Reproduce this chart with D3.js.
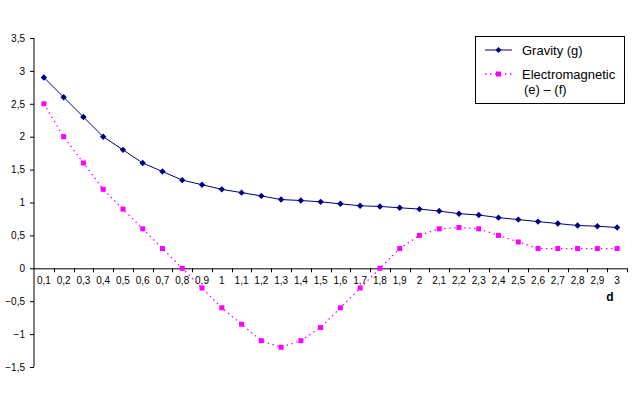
<!DOCTYPE html>
<html>
<head>
<meta charset="utf-8">
<script src="https://cdn.jsdelivr.net/npm/d3@7"></script>
<style>
    body { margin: 0; background: #fff; }
    text { font-family: "Liberation Sans", Arial, sans-serif; }
</style>
</head>
<body>
<div id="chart"></div>
<script>
'use strict';

// category labels (distance d)
const categories = ["0.1", "0.2", "0.3", "0.4", "0.5", "0.6", "0.7", "0.8", "0.9", "1",
    "1.1", "1.2", "1.3", "1.4", "1.5", "1.6", "1.7", "1.8", "1.9", "2",
    "2.1", "2.2", "2.3", "2.4", "2.5", "2.6", "2.7", "2.8", "2.9", "3"];

const gravity = [2.9, 2.6, 2.3, 2.0, 1.8, 1.6, 1.47, 1.34, 1.27, 1.2,
    1.15, 1.1, 1.045, 1.03, 1.01, 0.98, 0.95, 0.94, 0.92, 0.9,
    0.87, 0.83, 0.81, 0.77, 0.74, 0.71, 0.68, 0.65, 0.64, 0.62];

const electromagnetic = [2.5, 2.0, 1.6, 1.2, 0.9, 0.6, 0.3, 0.0, -0.3, -0.6,
    -0.85, -1.1, -1.2, -1.1, -0.9, -0.6, -0.3, 0.0, 0.3, 0.5,
    0.6, 0.62, 0.6, 0.5, 0.4, 0.3, 0.3, 0.3, 0.3, 0.3];

const yTicks = [-1.5, -1, -0.5, 0, 0.5, 1, 1.5, 2, 2.5, 3, 3.5];

const width = 642, height = 399;
const plot = { left: 34, right: 627, top: 38, bottom: 367 };

const commaFormat = d3.formatLocale({ decimal: ",", thousands: ".", grouping: [3], currency: ["", ""] }).format("");

const svg = d3.select("#chart")
    .append("svg")
    .attr("width", width)
    .attr("height", height);

const x = d3.scaleBand()
    .domain(categories)
    .range([plot.left, plot.right])
    .padding(0);

const y = d3.scaleLinear()
    .domain([-1.5, 3.5])
    .range([plot.bottom, plot.top]);

const cx = (c) => x(c) + x.bandwidth() / 2;

// y axis
const yAxis = svg.append("g")
    .attr("transform", "translate(" + plot.left + ",0)")
    .call(d3.axisLeft(y).tickValues(yTicks).tickSize(4).tickPadding(5).tickFormat(commaFormat));
yAxis.select(".domain").attr("stroke", "#000").attr("d", "M0," + plot.top + "V" + plot.bottom);
yAxis.selectAll("text").style("font-size", "10px").attr("fill", "#000");
yAxis.selectAll("line").attr("stroke", "#000");

// x axis at y = 0
const xAxisG = svg.append("g")
    .attr("transform", "translate(0," + y(0) + ")");
xAxisG.append("line")
    .attr("x1", plot.left).attr("x2", plot.right)
    .attr("y1", 0.5).attr("y2", 0.5)
    .attr("stroke", "#000");
xAxisG.selectAll(".btick")
    .data(categories)
    .enter()
    .append("line")
    .attr("class", "btick")
    .attr("x1", (d) => Math.round(x(d) + x.bandwidth()) + 0.5)
    .attr("x2", (d) => Math.round(x(d) + x.bandwidth()) + 0.5)
    .attr("y1", 0).attr("y2", 4)
    .attr("stroke", "#000");
xAxisG.selectAll(".clabel")
    .data(categories)
    .enter()
    .append("text")
    .attr("class", "clabel")
    .attr("x", (d) => cx(d))
    .attr("y", 16)
    .attr("text-anchor", "middle")
    .style("font-size", "10px")
    .text((d) => d.replace(".", ","));

svg.append("text")
    .attr("x", 610)
    .attr("y", 301)
    .attr("text-anchor", "middle")
    .style("font-size", "12px")
    .style("font-weight", "bold")
    .text("d");

// gravity series
svg.append("path")
    .datum(gravity)
    .attr("fill", "none")
    .attr("stroke", "#000080")
    .attr("stroke-width", 1)
    .attr("d", d3.line()
        .x((d, i) => cx(categories[i]))
        .y((d) => y(d)));

const diamond = (px, py, r) => "M" + px + "," + (py - r) + "L" + (px + r) + "," + py +
    "L" + px + "," + (py + r) + "L" + (px - r) + "," + py + "Z";

svg.selectAll(".gmark")
    .data(gravity)
    .enter()
    .append("path")
    .attr("class", "gmark")
    .attr("d", (d, i) => diamond(cx(categories[i]), y(d), 3.2))
    .attr("fill", "#000080");

// electromagnetic series
svg.append("path")
    .datum(electromagnetic)
    .attr("fill", "none")
    .attr("stroke", "#ff00ff")
    .attr("stroke-width", 1.3)
    .attr("stroke-dasharray", "1.5,3.5")
    .attr("d", d3.line()
        .x((d, i) => cx(categories[i]))
        .y((d) => y(d)));

svg.selectAll(".emark")
    .data(electromagnetic)
    .enter()
    .append("rect")
    .attr("class", "emark")
    .attr("x", (d, i) => cx(categories[i]) - 2.5)
    .attr("y", (d) => y(d) - 2.5)
    .attr("width", 5)
    .attr("height", 5)
    .attr("fill", "#ff00ff");

// legend
const legend = svg.append("g");
legend.append("rect")
    .attr("x", 475.5).attr("y", 36.5)
    .attr("width", 149).attr("height", 67)
    .attr("fill", "#fff")
    .attr("stroke", "#000");

legend.append("line")
    .attr("x1", 485).attr("x2", 512)
    .attr("y1", 50).attr("y2", 50)
    .attr("stroke", "#000080");
legend.append("path")
    .attr("d", diamond(498.5, 50, 3))
    .attr("fill", "#000080");
legend.append("text")
    .attr("x", 522).attr("y", 54.5)
    .style("font-size", "13px")
    .text("Gravity (g)");

legend.append("line")
    .attr("x1", 485).attr("x2", 512)
    .attr("y1", 74).attr("y2", 74)
    .attr("stroke", "#ff00ff")
    .attr("stroke-width", 1.3)
    .attr("stroke-dasharray", "1.5,3.5");
legend.append("rect")
    .attr("x", 496).attr("y", 71.5)
    .attr("width", 5).attr("height", 5)
    .attr("fill", "#ff00ff");
legend.append("text")
    .attr("x", 522).attr("y", 78.5)
    .style("font-size", "13px")
    .text("Electromagnetic");
legend.append("text")
    .attr("x", 524).attr("y", 93.5)
    .style("font-size", "13px")
    .text("(e) \u2013 (f)");
</script>
</body>
</html>
